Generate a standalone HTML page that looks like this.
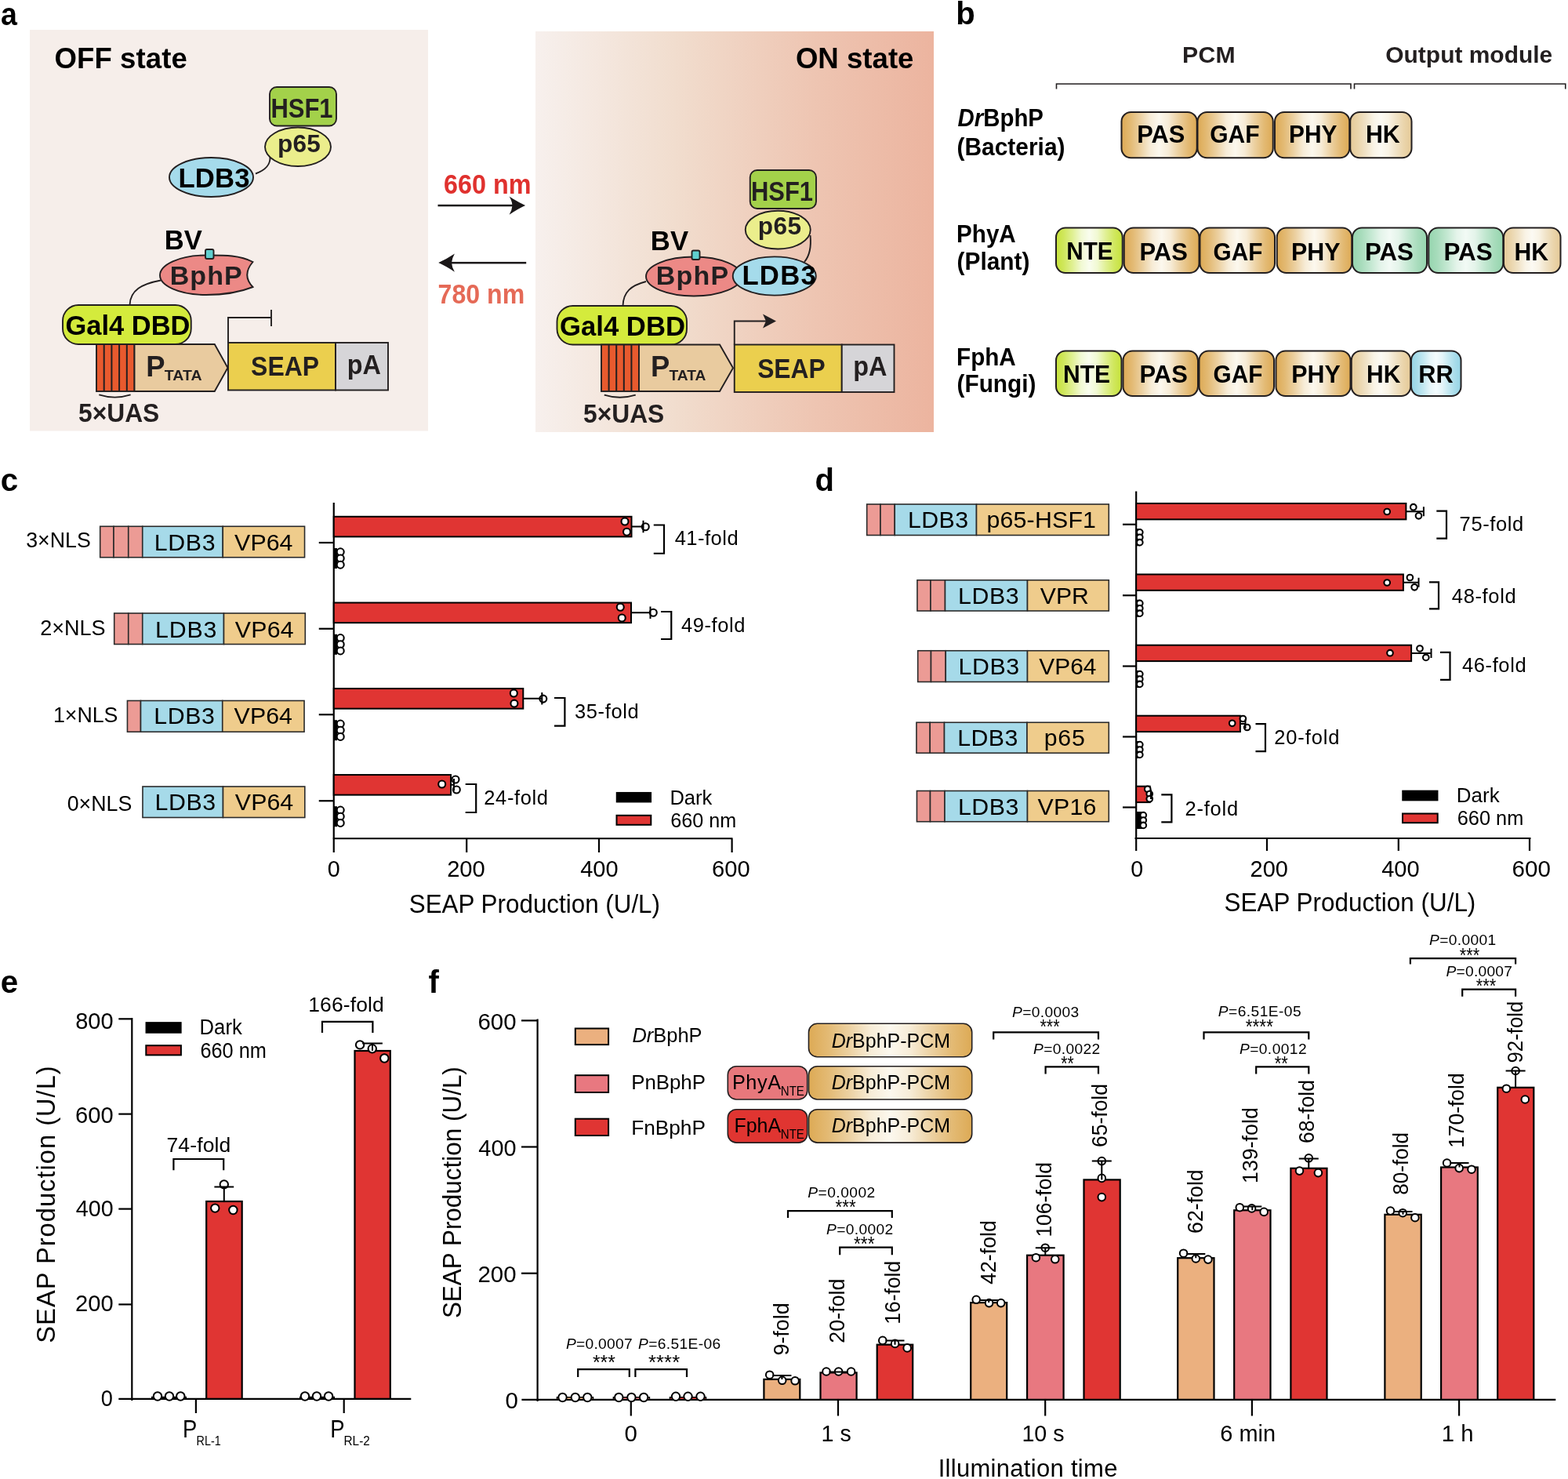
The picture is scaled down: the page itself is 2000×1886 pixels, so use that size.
<!DOCTYPE html><html><head><meta charset="utf-8"><style>html,body{margin:0;padding:0;background:#fff;width:2000px;height:1886px;overflow:hidden}svg{display:block}</style></head><body>
<svg width="2000" height="1886" viewBox="0 0 2000 1886" font-family="'Liberation Sans', Arial, sans-serif">
<rect width="2000" height="1886" fill="#fff"/>
<defs><linearGradient id="gOn" x1="0" x2="1" y1="0" y2="0"><stop offset="0" stop-color="#f7f0ed"/><stop offset="0.35" stop-color="#f1ddce"/><stop offset="0.7" stop-color="#eec5b2"/><stop offset="1" stop-color="#ecb49f"/></linearGradient></defs>
<rect x="38" y="38" width="508" height="511.5" fill="#f6eeea"/>
<rect x="683" y="40" width="508" height="511" fill="url(#gOn)"/>
<text x="0.9" y="31.7" font-size="40" font-weight="bold" textLength="20.86" lengthAdjust="spacingAndGlyphs">a</text>
<text x="69.5" y="86.5" font-size="36.6" font-weight="bold" textLength="169.25" lengthAdjust="spacing">OFF state</text>
<text x="1014.9" y="87.1" font-size="37.4" font-weight="bold" textLength="150.55" lengthAdjust="spacingAndGlyphs">ON state</text>
<g fill="#1a1718" stroke="none"><rect x="558.5" y="260.8" width="96" height="2.5"/><path d="M670.1,262 Q660.5,266.3 649.6,273.8 Q653.2,267.5 653.5,262 Q653.2,256.5 649.6,250.4 Q660.5,257.7 670.1,262 Z"/><rect x="574" y="333.9" width="97.2" height="2.5"/><path d="M559.2,335.1 Q568.8,339.4 579.9,346.7 Q576.3,340.5 576,335.1 Q576.3,329.7 579.9,323.5 Q568.8,330.8 559.2,335.1 Z"/></g>
<text x="566.02" y="246.5" font-size="34.7" font-weight="bold" textLength="111.49" lengthAdjust="spacingAndGlyphs" fill="#e0312e">660 nm</text>
<text x="558.62" y="387" font-size="34.7" font-weight="bold" textLength="110.57" lengthAdjust="spacingAndGlyphs" fill="#e56a57">780 nm</text>
<path d="M326,221.5 C338,217 345,211 344.5,200" fill="none" stroke="#231f20" stroke-width="1.9"/>
<ellipse cx="269.5" cy="226" rx="53.5" ry="25" fill="#a5dbeb" stroke="#231f20" stroke-width="1.9"/>
<ellipse cx="380" cy="187.25" rx="42" ry="24.75" fill="#ebee8c" stroke="#231f20" stroke-width="1.9"/>
<rect x="344" y="111" width="85" height="49.5" rx="9" fill="#a3d14a" stroke="#231f20" stroke-width="1.9"/>
<text x="345.43" y="149.5" font-size="35.3" font-weight="bold" textLength="79.18" lengthAdjust="spacingAndGlyphs" fill="#231f20">HSF1</text>
<text x="353.92" y="193.75" font-size="31.6" font-weight="bold" textLength="54.96" lengthAdjust="spacing" fill="#231f20">p65</text>
<text x="227.38" y="238.8" font-size="34.7" font-weight="bold" textLength="91.28" lengthAdjust="spacing">LDB3</text>
<path d="M205,357.5 C181,362 166,370 165.5,389" fill="none" stroke="#231f20" stroke-width="1.9"/>
<path d="M322.5,334 C305,325 285,325.5 263,325.5 C228,325.5 204,338 204,351 C204,364 228,376 263,376 C285,376 305,373 322.5,366 Q308,351 322.5,334 Z" fill="#ec8986" stroke="#231f20" stroke-width="1.9"/>
<rect x="262" y="318" width="10.5" height="12" rx="2" fill="#5fcfcf" stroke="#231f20" stroke-width="1.9"/>
<text x="209.69" y="318" font-size="34.7" font-weight="bold" textLength="48.05" lengthAdjust="spacingAndGlyphs">BV</text>
<text x="216.73" y="362.5" font-size="34" font-weight="bold" textLength="91.94" lengthAdjust="spacing" fill="#231f20">BphP</text>
<path d="M291,437 V405 H346 M346,395 V416" fill="none" stroke="#231f20" stroke-width="1.9"/>
<rect x="80" y="389" width="163.75" height="50" rx="20" fill="#d4eb3c" stroke="#231f20" stroke-width="1.9"/>
<text x="83.59" y="427" font-size="34.7" font-weight="bold" textLength="158.86" lengthAdjust="spacingAndGlyphs">Gal4 DBD</text>
<rect x="123" y="439" width="48.5" height="60" fill="#e85a2e" stroke="#231f20" stroke-width="1.9"/>
<line x1="132.7" y1="439" x2="132.7" y2="499" stroke="#231f20" stroke-width="2"/>
<line x1="142.4" y1="439" x2="142.4" y2="499" stroke="#231f20" stroke-width="2"/>
<line x1="152.1" y1="439" x2="152.1" y2="499" stroke="#231f20" stroke-width="2"/>
<line x1="161.8" y1="439" x2="161.8" y2="499" stroke="#231f20" stroke-width="2"/>
<path d="M171.5,439 H273.75 L290.5,469 L273.75,499 H171.5 Z" fill="#e9cb9f" stroke="#231f20" stroke-width="1.9"/>
<rect x="291" y="437" width="137" height="60.5" fill="#ebcf4e" stroke="#231f20" stroke-width="1.9"/>
<rect x="428" y="437" width="67" height="60.5" fill="#d6d5d8" stroke="#231f20" stroke-width="1.9"/>
<text x="186.32" y="480" font-size="36.4" font-weight="bold" fill="#231f20">P</text>
<text x="209.8" y="485" font-size="18.9" font-weight="bold" textLength="47.67" lengthAdjust="spacingAndGlyphs" fill="#231f20">TATA</text>
<text x="320.08" y="479.4" font-size="34.6" font-weight="bold" textLength="87.01" lengthAdjust="spacingAndGlyphs" fill="#231f20">SEAP</text>
<text x="442.76" y="476.7" font-size="35" font-weight="bold" textLength="43.19" lengthAdjust="spacingAndGlyphs" fill="#231f20">pA</text>
<path d="M126.3,503.4 A67 67 0 0 0 166.6,503.4" fill="none" stroke="#231f20" stroke-width="1.9"/>
<text x="100.02" y="538.1" font-size="33.8" font-weight="bold" textLength="103.22" lengthAdjust="spacingAndGlyphs" fill="#231f20">5×UAS</text>
<path d="M1033.5,300 C1035,315 1032,327 1026,334" fill="none" stroke="#231f20" stroke-width="1.9"/>
<path d="M824,359 C805,364 795,372 794.5,390" fill="none" stroke="#231f20" stroke-width="1.9"/>
<ellipse cx="885" cy="352.5" rx="61" ry="25" fill="#ec8986" stroke="#231f20" stroke-width="1.9"/>
<ellipse cx="987.75" cy="352" rx="53" ry="24.6" fill="#a5dbeb" stroke="#231f20" stroke-width="1.9"/>
<ellipse cx="992.25" cy="293.1" rx="41.5" ry="24.4" fill="#ebee8c" stroke="#231f20" stroke-width="1.9"/>
<rect x="956.75" y="217" width="84.25" height="49" rx="9" fill="#a3d14a" stroke="#231f20" stroke-width="1.9"/>
<text x="957.93" y="255.5" font-size="34.7" font-weight="bold" textLength="79.18" lengthAdjust="spacingAndGlyphs" fill="#231f20">HSF1</text>
<text x="966.67" y="298.75" font-size="31.6" font-weight="bold" textLength="55.46" lengthAdjust="spacing" fill="#231f20">p65</text>
<rect x="882.5" y="319.5" width="10" height="11.5" rx="2" fill="#5fcfcf" stroke="#231f20" stroke-width="1.9"/>
<text x="829.68" y="318.75" font-size="34.7" font-weight="bold" textLength="48.56" lengthAdjust="spacing">BV</text>
<text x="836.73" y="362.5" font-size="34" font-weight="bold" textLength="92.44" lengthAdjust="spacing" fill="#231f20">BphP</text>
<text x="946.43" y="362.5" font-size="34.7" font-weight="bold" textLength="94.33" lengthAdjust="spacing">LDB3</text>
<path d="M936.75,439.5 V409.5 H978" fill="none" stroke="#231f20" stroke-width="1.9"/>
<path d="M990,409.5 L973,400.5 L977,409.5 L973,418.5 Z" fill="#231f20"/>
<rect x="710.5" y="390" width="165.5" height="49.5" rx="20" fill="#d4eb3c" stroke="#231f20" stroke-width="1.9"/>
<text x="714.08" y="427.5" font-size="34.7" font-weight="bold" textLength="159.88" lengthAdjust="spacingAndGlyphs">Gal4 DBD</text>
<rect x="767" y="439.5" width="48" height="59.5" fill="#e85a2e" stroke="#231f20" stroke-width="1.9"/>
<line x1="776.6" y1="439.5" x2="776.6" y2="499" stroke="#231f20" stroke-width="2"/>
<line x1="786.2" y1="439.5" x2="786.2" y2="499" stroke="#231f20" stroke-width="2"/>
<line x1="795.8" y1="439.5" x2="795.8" y2="499" stroke="#231f20" stroke-width="2"/>
<line x1="805.4" y1="439.5" x2="805.4" y2="499" stroke="#231f20" stroke-width="2"/>
<path d="M815,439.5 H918 L935,469.25 L918,499 H815 Z" fill="#e9cb9f" stroke="#231f20" stroke-width="1.9"/>
<rect x="936.75" y="439.5" width="137" height="60.5" fill="#ebcf4e" stroke="#231f20" stroke-width="1.9"/>
<rect x="1073.75" y="439.5" width="66.75" height="60.5" fill="#d6d5d8" stroke="#231f20" stroke-width="1.9"/>
<text x="830.07" y="479.5" font-size="36.4" font-weight="bold" fill="#231f20">P</text>
<text x="853.55" y="485" font-size="18.9" font-weight="bold" textLength="46.91" lengthAdjust="spacingAndGlyphs" fill="#231f20">TATA</text>
<text x="966.18" y="481.75" font-size="34.6" font-weight="bold" textLength="86.5" lengthAdjust="spacingAndGlyphs" fill="#231f20">SEAP</text>
<text x="1088.16" y="479.2" font-size="35" font-weight="bold" textLength="43.3" lengthAdjust="spacingAndGlyphs" fill="#231f20">pA</text>
<path d="M770.75,503.6 A67 67 0 0 0 810.75,503.6" fill="none" stroke="#231f20" stroke-width="1.9"/>
<text x="744.02" y="538.5" font-size="33.8" font-weight="bold" textLength="103.22" lengthAdjust="spacingAndGlyphs" fill="#231f20">5×UAS</text>
<defs>
<linearGradient id="gTan" x1="0" x2="1" y1="0" y2="0"><stop offset="0" stop-color="#ddaa55"/><stop offset="0.12" stop-color="#e3ba74"/><stop offset="0.25" stop-color="#ecd1a2"/><stop offset="0.38" stop-color="#f7ecd7"/><stop offset="0.5" stop-color="#fcf8ee"/><stop offset="0.62" stop-color="#f7ecd7"/><stop offset="0.75" stop-color="#ecd1a2"/><stop offset="0.88" stop-color="#e3ba74"/><stop offset="1" stop-color="#ddaa55"/></linearGradient>
<linearGradient id="gHK" x1="0" x2="1" y1="0" y2="0"><stop offset="0" stop-color="#e5ca98"/><stop offset="0.12" stop-color="#ead4aa"/><stop offset="0.25" stop-color="#f0e2c6"/><stop offset="0.38" stop-color="#f9f3e5"/><stop offset="0.5" stop-color="#fcfaf3"/><stop offset="0.62" stop-color="#f9f3e5"/><stop offset="0.75" stop-color="#f0e2c6"/><stop offset="0.88" stop-color="#ead4aa"/><stop offset="1" stop-color="#e5ca98"/></linearGradient>
<linearGradient id="gNTE" x1="0" x2="1" y1="0" y2="0"><stop offset="0" stop-color="#c6e23a"/><stop offset="0.12" stop-color="#d0e75e"/><stop offset="0.25" stop-color="#e0f094"/><stop offset="0.38" stop-color="#f1f9d3"/><stop offset="0.5" stop-color="#f9fdee"/><stop offset="0.62" stop-color="#f1f9d3"/><stop offset="0.75" stop-color="#e0f094"/><stop offset="0.88" stop-color="#d0e75e"/><stop offset="1" stop-color="#c6e23a"/></linearGradient>
<linearGradient id="gGrn" x1="0" x2="1" y1="0" y2="0"><stop offset="0" stop-color="#95d5ae"/><stop offset="0.12" stop-color="#a8dcbc"/><stop offset="0.25" stop-color="#c4e8d2"/><stop offset="0.38" stop-color="#e4f4ea"/><stop offset="0.5" stop-color="#f2faf5"/><stop offset="0.62" stop-color="#e4f4ea"/><stop offset="0.75" stop-color="#c4e8d2"/><stop offset="0.88" stop-color="#a8dcbc"/><stop offset="1" stop-color="#95d5ae"/></linearGradient>
<linearGradient id="gRR" x1="0" x2="1" y1="0" y2="0"><stop offset="0" stop-color="#95d4e5"/><stop offset="0.12" stop-color="#a8dcea"/><stop offset="0.25" stop-color="#c4e8f1"/><stop offset="0.38" stop-color="#e5f5f9"/><stop offset="0.5" stop-color="#f3fbfd"/><stop offset="0.62" stop-color="#e5f5f9"/><stop offset="0.75" stop-color="#c4e8f1"/><stop offset="0.88" stop-color="#a8dcea"/><stop offset="1" stop-color="#95d4e5"/></linearGradient>
<linearGradient id="vTan" x1="0" x2="0" y1="0" y2="1"><stop offset="0" stop-color="#ddaa55" stop-opacity="0.45"/><stop offset="0.3" stop-color="#ddaa55" stop-opacity="0"/><stop offset="0.7" stop-color="#ddaa55" stop-opacity="0"/><stop offset="1" stop-color="#ddaa55" stop-opacity="0.45"/></linearGradient>
<linearGradient id="vHK" x1="0" x2="0" y1="0" y2="1"><stop offset="0" stop-color="#e5ca98" stop-opacity="0.45"/><stop offset="0.3" stop-color="#e5ca98" stop-opacity="0"/><stop offset="0.7" stop-color="#e5ca98" stop-opacity="0"/><stop offset="1" stop-color="#e5ca98" stop-opacity="0.45"/></linearGradient>
<linearGradient id="vNTE" x1="0" x2="0" y1="0" y2="1"><stop offset="0" stop-color="#c6e23a" stop-opacity="0.45"/><stop offset="0.3" stop-color="#c6e23a" stop-opacity="0"/><stop offset="0.7" stop-color="#c6e23a" stop-opacity="0"/><stop offset="1" stop-color="#c6e23a" stop-opacity="0.45"/></linearGradient>
<linearGradient id="vGrn" x1="0" x2="0" y1="0" y2="1"><stop offset="0" stop-color="#95d5ae" stop-opacity="0.45"/><stop offset="0.3" stop-color="#95d5ae" stop-opacity="0"/><stop offset="0.7" stop-color="#95d5ae" stop-opacity="0"/><stop offset="1" stop-color="#95d5ae" stop-opacity="0.45"/></linearGradient>
<linearGradient id="vRR" x1="0" x2="0" y1="0" y2="1"><stop offset="0" stop-color="#95d4e5" stop-opacity="0.45"/><stop offset="0.3" stop-color="#95d4e5" stop-opacity="0"/><stop offset="0.7" stop-color="#95d4e5" stop-opacity="0"/><stop offset="1" stop-color="#95d4e5" stop-opacity="0.45"/></linearGradient>
</defs>
<text x="1219.36" y="31.25" font-size="40" font-weight="bold" textLength="26.03" lengthAdjust="spacing">b</text>
<text x="1507.98" y="80" font-size="30.2" font-weight="bold" textLength="67.79" lengthAdjust="spacing" fill="#231f20">PCM</text>
<text x="1767.27" y="80" font-size="30.2" font-weight="bold" textLength="213" lengthAdjust="spacingAndGlyphs" fill="#231f20">Output module</text>
<path d="M1347.5,113.5 V107 H1723 V113.5 M1727.5,113.5 V107 H1996.75 V113.5" fill="none" stroke="#231f20" stroke-width="1.6"/>
<text x="1221.48" y="161.25" font-size="30.9" textLength="109.52" lengthAdjust="spacingAndGlyphs"><tspan font-weight="bold" font-style="italic">Dr</tspan><tspan font-weight="bold">BphP</tspan></text>
<text x="1220.51" y="197.5" font-size="30.9" font-weight="bold" textLength="137.98" lengthAdjust="spacingAndGlyphs">(Bacteria)</text>
<text x="1220.02" y="308.75" font-size="30.9" font-weight="bold" textLength="75.76" lengthAdjust="spacingAndGlyphs">PhyA</text>
<text x="1220.51" y="344.25" font-size="30.9" font-weight="bold" textLength="92.98" lengthAdjust="spacingAndGlyphs">(Plant)</text>
<text x="1220.02" y="465.5" font-size="30.9" font-weight="bold" textLength="75.77" lengthAdjust="spacingAndGlyphs">FphA</text>
<text x="1220.52" y="500" font-size="30.9" font-weight="bold" textLength="100.97" lengthAdjust="spacingAndGlyphs">(Fungi)</text>
<rect x="1430.5" y="143" width="96.25" height="58.25" rx="12" fill="url(#gTan)" stroke="#231f20" stroke-width="2"/>
<rect x="1527.5" y="143" width="96.25" height="58.25" rx="12" fill="url(#gTan)" stroke="#231f20" stroke-width="2"/>
<rect x="1626" y="143" width="95.25" height="58.25" rx="12" fill="url(#gTan)" stroke="#231f20" stroke-width="2"/>
<rect x="1722.25" y="143" width="78.25" height="58.25" rx="12" fill="url(#gHK)" stroke="#231f20" stroke-width="2"/>
<text x="1450.21" y="181.9" font-size="30.5" font-weight="bold" textLength="61.15" lengthAdjust="spacingAndGlyphs">PAS</text>
<text x="1543.27" y="181.9" font-size="30.5" font-weight="bold" textLength="63.33" lengthAdjust="spacingAndGlyphs">GAF</text>
<text x="1644" y="181.9" font-size="30.5" font-weight="bold" textLength="61.48" lengthAdjust="spacingAndGlyphs">PHY</text>
<text x="1741.97" y="181.9" font-size="30.5" font-weight="bold" textLength="43.81" lengthAdjust="spacingAndGlyphs">HK</text>
<rect x="1347" y="290.5" width="84.75" height="57.5" rx="12" fill="url(#gNTE)" stroke="#231f20" stroke-width="2"/>
<rect x="1433.75" y="290.5" width="95.75" height="57.5" rx="12" fill="url(#gTan)" stroke="#231f20" stroke-width="2"/>
<rect x="1530.5" y="290.5" width="95.5" height="57.5" rx="12" fill="url(#gTan)" stroke="#231f20" stroke-width="2"/>
<rect x="1628.75" y="290.5" width="95.5" height="57.5" rx="12" fill="url(#gTan)" stroke="#231f20" stroke-width="2"/>
<rect x="1725" y="290.5" width="95" height="57.5" rx="12" fill="url(#gGrn)" stroke="#231f20" stroke-width="2"/>
<rect x="1822.25" y="290.5" width="95" height="57.5" rx="12" fill="url(#gGrn)" stroke="#231f20" stroke-width="2"/>
<rect x="1918" y="290.5" width="72.5" height="57.5" rx="12" fill="url(#gHK)" stroke="#231f20" stroke-width="2"/>
<text x="1360.22" y="330.6" font-size="31.3" font-weight="bold" textLength="59.34" lengthAdjust="spacingAndGlyphs">NTE</text>
<text x="1453.5" y="331.5" font-size="31.3" font-weight="bold" textLength="61.41" lengthAdjust="spacingAndGlyphs">PAS</text>
<text x="1547.53" y="331.5" font-size="31.3" font-weight="bold" textLength="62.81" lengthAdjust="spacingAndGlyphs">GAF</text>
<text x="1646.97" y="331.5" font-size="31.3" font-weight="bold" textLength="62.52" lengthAdjust="spacingAndGlyphs">PHY</text>
<text x="1740.98" y="331.5" font-size="31.3" font-weight="bold" textLength="61.94" lengthAdjust="spacingAndGlyphs">PAS</text>
<text x="1841.48" y="331.5" font-size="31.3" font-weight="bold" textLength="62.21" lengthAdjust="spacingAndGlyphs">PAS</text>
<text x="1931.48" y="331.5" font-size="31.3" font-weight="bold" textLength="43.55" lengthAdjust="spacingAndGlyphs">HK</text>
<rect x="1347" y="447.5" width="83.5" height="57.5" rx="12" fill="url(#gNTE)" stroke="#231f20" stroke-width="2"/>
<rect x="1432.5" y="447.5" width="95.5" height="57.5" rx="12" fill="url(#gTan)" stroke="#231f20" stroke-width="2"/>
<rect x="1529.5" y="447.5" width="95.5" height="57.5" rx="12" fill="url(#gTan)" stroke="#231f20" stroke-width="2"/>
<rect x="1627.5" y="447.5" width="95" height="57.5" rx="12" fill="url(#gTan)" stroke="#231f20" stroke-width="2"/>
<rect x="1723.75" y="447.5" width="75.5" height="57.5" rx="12" fill="url(#gHK)" stroke="#231f20" stroke-width="2"/>
<rect x="1800" y="447.5" width="63.5" height="57.5" rx="12" fill="url(#gRR)" stroke="#231f20" stroke-width="2"/>
<text x="1355.99" y="487.5" font-size="31.2" font-weight="bold" textLength="60.19" lengthAdjust="spacingAndGlyphs">NTE</text>
<text x="1453.5" y="487.5" font-size="31.2" font-weight="bold" textLength="61.41" lengthAdjust="spacingAndGlyphs">PAS</text>
<text x="1547.53" y="487.5" font-size="31.2" font-weight="bold" textLength="62.81" lengthAdjust="spacingAndGlyphs">GAF</text>
<text x="1647.22" y="487.5" font-size="31.2" font-weight="bold" textLength="62.52" lengthAdjust="spacingAndGlyphs">PHY</text>
<text x="1743" y="487.5" font-size="31.2" font-weight="bold" textLength="43.28" lengthAdjust="spacingAndGlyphs">HK</text>
<text x="1809.19" y="487.5" font-size="31.2" font-weight="bold" textLength="44.44" lengthAdjust="spacingAndGlyphs">RR</text>
<text x="0.83" y="626.4" font-size="40.3" font-weight="bold" textLength="22.65" lengthAdjust="spacing">c</text>
<path d="M425.75,641 V1087 M424.5,1069.25 H934.5 M595.2,1069.25 V1087 M764,1069.25 V1087 M933.6,1069.25 V1087" fill="none" stroke="#000" stroke-width="2.2"/>
<path d="M406.75,692 H425.75" stroke="#000" stroke-width="2.2"/>
<path d="M406.75,801.75 H425.75" stroke="#000" stroke-width="2.2"/>
<path d="M406.75,911.25 H425.75" stroke="#000" stroke-width="2.2"/>
<path d="M406.75,1021.25 H425.75" stroke="#000" stroke-width="2.2"/>
<text x="417.63" y="1118.3" font-size="30.2" textLength="16" lengthAdjust="spacingAndGlyphs">0</text>
<text x="570.13" y="1118.3" font-size="30.2" textLength="48.71" lengthAdjust="spacingAndGlyphs">200</text>
<text x="740.13" y="1118.3" font-size="30.2" textLength="48.4" lengthAdjust="spacingAndGlyphs">400</text>
<text x="908.12" y="1118.3" font-size="30.2" textLength="48.62" lengthAdjust="spacingAndGlyphs">600</text>
<text x="521.78" y="1163.6" font-size="32.7" textLength="320.26" lengthAdjust="spacingAndGlyphs">SEAP Production (U/L)</text>
<rect x="127.7" y="671.25" width="17.3" height="39.5" fill="#ec9b95" stroke="#2b2b2b" stroke-width="1.6"/>
<rect x="145" y="671.25" width="18.75" height="39.5" fill="#ec9b95" stroke="#2b2b2b" stroke-width="1.6"/>
<rect x="163.75" y="671.25" width="18" height="39.5" fill="#ec9b95" stroke="#2b2b2b" stroke-width="1.6"/>
<rect x="181.75" y="671.25" width="102.5" height="39.5" fill="#a6dae9" stroke="#2b2b2b" stroke-width="1.6"/>
<rect x="284.25" y="671.25" width="104.3" height="39.5" fill="#efcc8c" stroke="#2b2b2b" stroke-width="1.6"/>
<text x="196.76" y="701.75" font-size="30.3" textLength="77.82" lengthAdjust="spacing">LDB3</text>
<text x="299.12" y="701.75" font-size="30.3" textLength="74.27" lengthAdjust="spacing">VP64</text>
<rect x="145.7" y="782" width="18.05" height="39.5" fill="#ec9b95" stroke="#2b2b2b" stroke-width="1.6"/>
<rect x="163.75" y="782" width="18" height="39.5" fill="#ec9b95" stroke="#2b2b2b" stroke-width="1.6"/>
<rect x="181.75" y="782" width="103.75" height="39.5" fill="#a6dae9" stroke="#2b2b2b" stroke-width="1.6"/>
<rect x="285.5" y="782" width="103.8" height="39.5" fill="#efcc8c" stroke="#2b2b2b" stroke-width="1.6"/>
<text x="198.01" y="812.5" font-size="30.3" textLength="78.32" lengthAdjust="spacing">LDB3</text>
<text x="299.87" y="812.5" font-size="30.3" textLength="74.77" lengthAdjust="spacing">VP64</text>
<rect x="162.45" y="893.5" width="17.05" height="39.75" fill="#ec9b95" stroke="#2b2b2b" stroke-width="1.6"/>
<rect x="179.5" y="893.5" width="104.25" height="39.75" fill="#a6dae9" stroke="#2b2b2b" stroke-width="1.6"/>
<rect x="283.75" y="893.5" width="104.3" height="39.75" fill="#efcc8c" stroke="#2b2b2b" stroke-width="1.6"/>
<text x="196.26" y="923" font-size="30.3" textLength="77.57" lengthAdjust="spacing">LDB3</text>
<text x="298.62" y="923" font-size="30.3" textLength="74.27" lengthAdjust="spacing">VP64</text>
<rect x="181.95" y="1003" width="102.55" height="39.5" fill="#a6dae9" stroke="#2b2b2b" stroke-width="1.6"/>
<rect x="284.5" y="1003" width="104.3" height="39.5" fill="#efcc8c" stroke="#2b2b2b" stroke-width="1.6"/>
<text x="197.51" y="1033" font-size="30.3" textLength="77.57" lengthAdjust="spacing">LDB3</text>
<text x="299.87" y="1033" font-size="30.3" textLength="74.27" lengthAdjust="spacing">VP64</text>
<text x="33.23" y="698.1" font-size="27.4" textLength="82.5" lengthAdjust="spacingAndGlyphs">3×NLS</text>
<text x="51.14" y="809.6" font-size="27.4" textLength="83.35" lengthAdjust="spacingAndGlyphs">2×NLS</text>
<text x="67.96" y="921.35" font-size="27.4" textLength="82.51" lengthAdjust="spacingAndGlyphs">1×NLS</text>
<text x="85.71" y="1033.85" font-size="27.4" textLength="82.52" lengthAdjust="spacingAndGlyphs">0×NLS</text>
<rect x="425.75" y="658.8" width="379.75" height="25.6" fill="#e03533" stroke="#000" stroke-width="2"/>
<circle cx="797" cy="665" r="4.5" fill="#fff" stroke="#000" stroke-width="2.1"/>
<circle cx="799.5" cy="678.25" r="4.5" fill="#fff" stroke="#000" stroke-width="2.1"/>
<circle cx="823.25" cy="671.75" r="4.5" fill="#fff" stroke="#000" stroke-width="2.1"/>
<path d="M805.5,671.6 H820.5 M820.5,663.85 V679.35" fill="none" stroke="#000" stroke-width="2"/>
<rect x="425.75" y="699.5" width="3.75" height="25" fill="#000" stroke="#000" stroke-width="1"/>
<circle cx="434.2" cy="703.8" r="4.5" fill="#fff" stroke="#000" stroke-width="2.1"/>
<circle cx="434.2" cy="712" r="4.5" fill="#fff" stroke="#000" stroke-width="2.1"/>
<circle cx="434.2" cy="720.2" r="4.5" fill="#fff" stroke="#000" stroke-width="2.1"/>
<path d="M833.75,669.5 H847 V705.75 H833.75" fill="none" stroke="#000" stroke-width="2.2"/>
<text x="860.66" y="695" font-size="25.5" textLength="80.98" lengthAdjust="spacing">41-fold</text>
<rect x="425.75" y="768.55" width="379.25" height="25.6" fill="#e03533" stroke="#000" stroke-width="2"/>
<circle cx="791.25" cy="774.25" r="4.5" fill="#fff" stroke="#000" stroke-width="2.1"/>
<circle cx="793.25" cy="788" r="4.5" fill="#fff" stroke="#000" stroke-width="2.1"/>
<circle cx="833.25" cy="781.25" r="4.5" fill="#fff" stroke="#000" stroke-width="2.1"/>
<path d="M805,781.35 H829.5 M829.5,773.6 V789.1" fill="none" stroke="#000" stroke-width="2"/>
<rect x="425.75" y="809.25" width="3.75" height="25" fill="#000" stroke="#000" stroke-width="1"/>
<circle cx="434.2" cy="813.55" r="4.5" fill="#fff" stroke="#000" stroke-width="2.1"/>
<circle cx="434.2" cy="821.75" r="4.5" fill="#fff" stroke="#000" stroke-width="2.1"/>
<circle cx="434.2" cy="829.95" r="4.5" fill="#fff" stroke="#000" stroke-width="2.1"/>
<path d="M843,780 H856.25 V815 H843" fill="none" stroke="#000" stroke-width="2.2"/>
<text x="868.91" y="806.25" font-size="25.5" textLength="81.48" lengthAdjust="spacing">49-fold</text>
<rect x="425.75" y="878.05" width="241.55" height="25.6" fill="#e03533" stroke="#000" stroke-width="2"/>
<circle cx="655.3" cy="884" r="4.5" fill="#fff" stroke="#000" stroke-width="2.1"/>
<circle cx="655.9" cy="897.1" r="4.5" fill="#fff" stroke="#000" stroke-width="2.1"/>
<circle cx="692.8" cy="891.1" r="4.5" fill="#fff" stroke="#000" stroke-width="2.1"/>
<path d="M667.3,890.85 H691.3 M691.3,883.1 V898.6" fill="none" stroke="#000" stroke-width="2"/>
<rect x="425.75" y="918.75" width="3.75" height="25" fill="#000" stroke="#000" stroke-width="1"/>
<circle cx="434.2" cy="923.05" r="4.5" fill="#fff" stroke="#000" stroke-width="2.1"/>
<circle cx="434.2" cy="931.25" r="4.5" fill="#fff" stroke="#000" stroke-width="2.1"/>
<circle cx="434.2" cy="939.45" r="4.5" fill="#fff" stroke="#000" stroke-width="2.1"/>
<path d="M707,890 H720.4 V925.7 H707" fill="none" stroke="#000" stroke-width="2.2"/>
<text x="733.03" y="916" font-size="25.5" textLength="81.61" lengthAdjust="spacing">35-fold</text>
<rect x="425.75" y="988.05" width="149.25" height="25.6" fill="#e03533" stroke="#000" stroke-width="2"/>
<circle cx="563.7" cy="1000" r="4.5" fill="#fff" stroke="#000" stroke-width="2.1"/>
<circle cx="581" cy="994" r="4.5" fill="#fff" stroke="#000" stroke-width="2.1"/>
<circle cx="582.3" cy="1007" r="4.5" fill="#fff" stroke="#000" stroke-width="2.1"/>
<path d="M575,1000.85 H579 M579,993.1 V1008.6" fill="none" stroke="#000" stroke-width="2"/>
<rect x="425.75" y="1028.75" width="3.75" height="25" fill="#000" stroke="#000" stroke-width="1"/>
<circle cx="434.2" cy="1033.05" r="4.5" fill="#fff" stroke="#000" stroke-width="2.1"/>
<circle cx="434.2" cy="1041.25" r="4.5" fill="#fff" stroke="#000" stroke-width="2.1"/>
<circle cx="434.2" cy="1049.45" r="4.5" fill="#fff" stroke="#000" stroke-width="2.1"/>
<path d="M593.7,1000 H607.2 V1036 H593.7" fill="none" stroke="#000" stroke-width="2.2"/>
<text x="617.32" y="1025.7" font-size="25.5" textLength="81.63" lengthAdjust="spacing">24-fold</text>
<rect x="786.5" y="1010.7" width="43.8" height="12" fill="#000" stroke="#000" stroke-width="1.5"/>
<rect x="786.5" y="1039.8" width="43.8" height="12" fill="#e03533" stroke="#000" stroke-width="2"/>
<text x="854.4" y="1025.7" font-size="26" textLength="53.96" lengthAdjust="spacingAndGlyphs">Dark</text>
<text x="855.22" y="1055" font-size="26" textLength="83.94" lengthAdjust="spacingAndGlyphs">660 nm</text>
<text x="1039.61" y="626.3" font-size="40" font-weight="bold" textLength="25.53" lengthAdjust="spacing">d</text>
<path d="M1449.2,626.5 V1085 M1447.5,1069 H1952.5 M1616,1069 V1085 M1783.8,1069 V1085 M1951,1069 V1085" fill="none" stroke="#000" stroke-width="2.2"/>
<path d="M1432,668.75 H1449.2" stroke="#000" stroke-width="2.2"/>
<path d="M1432,759.25 H1449.2" stroke="#000" stroke-width="2.2"/>
<path d="M1432,849.5 H1449.2" stroke="#000" stroke-width="2.2"/>
<path d="M1432,939.5 H1449.2" stroke="#000" stroke-width="2.2"/>
<path d="M1432,1029.5 H1449.2" stroke="#000" stroke-width="2.2"/>
<text x="1442.18" y="1118" font-size="30.2" textLength="15.94" lengthAdjust="spacingAndGlyphs">0</text>
<text x="1594.54" y="1118" font-size="30.2" textLength="48.29" lengthAdjust="spacingAndGlyphs">200</text>
<text x="1762.13" y="1118" font-size="30.2" textLength="48.5" lengthAdjust="spacingAndGlyphs">400</text>
<text x="1928.5" y="1118" font-size="30.2" textLength="49.36" lengthAdjust="spacingAndGlyphs">600</text>
<text x="1561.58" y="1161.5" font-size="32.7" textLength="320.77" lengthAdjust="spacingAndGlyphs">SEAP Production (U/L)</text>
<rect x="1105.7" y="643" width="17.3" height="39.5" fill="#ec9b95" stroke="#2b2b2b" stroke-width="1.6"/>
<rect x="1123" y="643" width="18.25" height="39.5" fill="#ec9b95" stroke="#2b2b2b" stroke-width="1.6"/>
<rect x="1141.25" y="643" width="104.25" height="39.5" fill="#a6dae9" stroke="#2b2b2b" stroke-width="1.6"/>
<rect x="1245.5" y="643" width="168.8" height="39.5" fill="#efcc8c" stroke="#2b2b2b" stroke-width="1.6"/>
<text x="1157.91" y="673.4" font-size="30.3" textLength="77.12" lengthAdjust="spacing">LDB3</text>
<text x="1258.45" y="673.4" font-size="30.3" textLength="139.53" lengthAdjust="spacing">p65-HSF1</text>
<rect x="1169.95" y="739.75" width="17.05" height="39.25" fill="#ec9b95" stroke="#2b2b2b" stroke-width="1.6"/>
<rect x="1187" y="739.75" width="18.5" height="39.25" fill="#ec9b95" stroke="#2b2b2b" stroke-width="1.6"/>
<rect x="1205.5" y="739.75" width="105" height="39.25" fill="#a6dae9" stroke="#2b2b2b" stroke-width="1.6"/>
<rect x="1310.5" y="739.75" width="103.8" height="39.25" fill="#efcc8c" stroke="#2b2b2b" stroke-width="1.6"/>
<text x="1222.01" y="770" font-size="30.3" textLength="77.57" lengthAdjust="spacing">LDB3</text>
<text x="1326.87" y="770" font-size="30.3" textLength="62.03" lengthAdjust="spacingAndGlyphs">VPR</text>
<rect x="1170.7" y="829.75" width="16.8" height="39.75" fill="#ec9b95" stroke="#2b2b2b" stroke-width="1.6"/>
<rect x="1187.5" y="829.75" width="18.75" height="39.75" fill="#ec9b95" stroke="#2b2b2b" stroke-width="1.6"/>
<rect x="1206.25" y="829.75" width="104.25" height="39.75" fill="#a6dae9" stroke="#2b2b2b" stroke-width="1.6"/>
<rect x="1310.5" y="829.75" width="103.8" height="39.75" fill="#efcc8c" stroke="#2b2b2b" stroke-width="1.6"/>
<text x="1222.51" y="859.5" font-size="30.3" textLength="77.57" lengthAdjust="spacing">LDB3</text>
<text x="1325.37" y="859.5" font-size="30.3" textLength="73.01" lengthAdjust="spacingAndGlyphs">VP64</text>
<rect x="1168.95" y="921.25" width="17.3" height="39" fill="#ec9b95" stroke="#2b2b2b" stroke-width="1.6"/>
<rect x="1186.25" y="921.25" width="18.25" height="39" fill="#ec9b95" stroke="#2b2b2b" stroke-width="1.6"/>
<rect x="1204.5" y="921.25" width="105.5" height="39" fill="#a6dae9" stroke="#2b2b2b" stroke-width="1.6"/>
<rect x="1310" y="921.25" width="104.3" height="39" fill="#efcc8c" stroke="#2b2b2b" stroke-width="1.6"/>
<text x="1221.26" y="950.75" font-size="30.3" textLength="77.07" lengthAdjust="spacing">LDB3</text>
<text x="1331.8" y="950.75" font-size="30.3" textLength="51.98" lengthAdjust="spacing">p65</text>
<rect x="1169.45" y="1008.5" width="17.05" height="39.25" fill="#ec9b95" stroke="#2b2b2b" stroke-width="1.6"/>
<rect x="1186.5" y="1008.5" width="18.5" height="39.25" fill="#ec9b95" stroke="#2b2b2b" stroke-width="1.6"/>
<rect x="1205" y="1008.5" width="105.5" height="39.25" fill="#a6dae9" stroke="#2b2b2b" stroke-width="1.6"/>
<rect x="1310.5" y="1008.5" width="103.8" height="39.25" fill="#efcc8c" stroke="#2b2b2b" stroke-width="1.6"/>
<text x="1222.01" y="1038.75" font-size="30.3" textLength="77.32" lengthAdjust="spacing">LDB3</text>
<text x="1323.62" y="1038.75" font-size="30.3" textLength="74.71" lengthAdjust="spacing">VP16</text>
<rect x="1449.2" y="641.95" width="344.2" height="20.4" fill="#e03533" stroke="#000" stroke-width="2"/>
<circle cx="1769.2" cy="652.5" r="3.8" fill="#fff" stroke="#000" stroke-width="2.1"/>
<circle cx="1802.8" cy="646.7" r="3.8" fill="#fff" stroke="#000" stroke-width="2.1"/>
<circle cx="1809.5" cy="657.8" r="3.8" fill="#fff" stroke="#000" stroke-width="2.1"/>
<path d="M1793.4,652.15 H1815.9 M1815.9,646.15 V658.15" fill="none" stroke="#000" stroke-width="2"/>
<rect x="1449.2" y="674.75" width="4.6" height="21" fill="#000" stroke="#000" stroke-width="1"/>
<circle cx="1453.8" cy="678.85" r="3.8" fill="#fff" stroke="#000" stroke-width="2.1"/>
<circle cx="1453.8" cy="685.25" r="3.8" fill="#fff" stroke="#000" stroke-width="2.1"/>
<circle cx="1453.8" cy="691.65" r="3.8" fill="#fff" stroke="#000" stroke-width="2.1"/>
<path d="M1832.3,651.6 H1845 V686.6 H1832.3" fill="none" stroke="#000" stroke-width="2.2"/>
<text x="1861.59" y="677.3" font-size="25.5" textLength="81.65" lengthAdjust="spacing">75-fold</text>
<rect x="1449.2" y="732.45" width="340.7" height="20.4" fill="#e03533" stroke="#000" stroke-width="2"/>
<circle cx="1769.2" cy="743" r="3.8" fill="#fff" stroke="#000" stroke-width="2.1"/>
<circle cx="1798.4" cy="736.5" r="3.8" fill="#fff" stroke="#000" stroke-width="2.1"/>
<circle cx="1804.2" cy="748.8" r="3.8" fill="#fff" stroke="#000" stroke-width="2.1"/>
<path d="M1789.9,742.65 H1809.5 M1809.5,736.65 V748.65" fill="none" stroke="#000" stroke-width="2"/>
<rect x="1449.2" y="765.25" width="4.6" height="21" fill="#000" stroke="#000" stroke-width="1"/>
<circle cx="1453.8" cy="769.35" r="3.8" fill="#fff" stroke="#000" stroke-width="2.1"/>
<circle cx="1453.8" cy="775.75" r="3.8" fill="#fff" stroke="#000" stroke-width="2.1"/>
<circle cx="1453.8" cy="782.15" r="3.8" fill="#fff" stroke="#000" stroke-width="2.1"/>
<path d="M1823,742.3 H1835 V776.4 H1823" fill="none" stroke="#000" stroke-width="2.2"/>
<text x="1851.81" y="769.2" font-size="25.5" textLength="81.83" lengthAdjust="spacing">48-fold</text>
<rect x="1449.2" y="822.7" width="350.9" height="20.4" fill="#e03533" stroke="#000" stroke-width="2"/>
<circle cx="1773" cy="832.7" r="3.8" fill="#fff" stroke="#000" stroke-width="2.1"/>
<circle cx="1811" cy="827" r="3.8" fill="#fff" stroke="#000" stroke-width="2.1"/>
<circle cx="1818.8" cy="838.4" r="3.8" fill="#fff" stroke="#000" stroke-width="2.1"/>
<path d="M1800.1,832.9 H1825.5 M1825.5,826.9 V838.9" fill="none" stroke="#000" stroke-width="2"/>
<rect x="1449.2" y="855.5" width="4.6" height="21" fill="#000" stroke="#000" stroke-width="1"/>
<circle cx="1453.8" cy="859.6" r="3.8" fill="#fff" stroke="#000" stroke-width="2.1"/>
<circle cx="1453.8" cy="866" r="3.8" fill="#fff" stroke="#000" stroke-width="2.1"/>
<circle cx="1453.8" cy="872.4" r="3.8" fill="#fff" stroke="#000" stroke-width="2.1"/>
<path d="M1837,831.9 H1849.5 V866.9 H1837" fill="none" stroke="#000" stroke-width="2.2"/>
<text x="1864.91" y="857.3" font-size="25.5" textLength="81.73" lengthAdjust="spacing">46-fold</text>
<rect x="1449.2" y="912.7" width="132.7" height="20.4" fill="#e03533" stroke="#000" stroke-width="2"/>
<circle cx="1571.7" cy="922.3" r="3.8" fill="#fff" stroke="#000" stroke-width="2.1"/>
<circle cx="1585.4" cy="916.5" r="3.8" fill="#fff" stroke="#000" stroke-width="2.1"/>
<circle cx="1590.7" cy="927.5" r="3.8" fill="#fff" stroke="#000" stroke-width="2.1"/>
<path d="M1581.9,922.9 H1588.5 M1588.5,916.9 V928.9" fill="none" stroke="#000" stroke-width="2"/>
<rect x="1449.2" y="945.5" width="4.6" height="21" fill="#000" stroke="#000" stroke-width="1"/>
<circle cx="1453.8" cy="949.6" r="3.8" fill="#fff" stroke="#000" stroke-width="2.1"/>
<circle cx="1453.8" cy="956" r="3.8" fill="#fff" stroke="#000" stroke-width="2.1"/>
<circle cx="1453.8" cy="962.4" r="3.8" fill="#fff" stroke="#000" stroke-width="2.1"/>
<path d="M1601.5,923.2 H1614 V958.2 H1601.5" fill="none" stroke="#000" stroke-width="2.2"/>
<text x="1625.22" y="949.1" font-size="25.5" textLength="83.23" lengthAdjust="spacing">20-fold</text>
<rect x="1449.2" y="1002.7" width="17.5" height="20.4" fill="#e03533" stroke="#000" stroke-width="2"/>
<circle cx="1463.75" cy="1006.25" r="3.8" fill="#fff" stroke="#000" stroke-width="2.1"/>
<circle cx="1466.25" cy="1012.5" r="3.8" fill="#fff" stroke="#000" stroke-width="2.1"/>
<circle cx="1466.25" cy="1018.75" r="3.8" fill="#fff" stroke="#000" stroke-width="2.1"/>
<path d="M1466.7,1012.9 H1468 M1468,1006.9 V1018.9" fill="none" stroke="#000" stroke-width="2"/>
<rect x="1449.2" y="1035.5" width="9.1" height="21" fill="#000" stroke="#000" stroke-width="1"/>
<circle cx="1458.3" cy="1039.6" r="3.8" fill="#fff" stroke="#000" stroke-width="2.1"/>
<circle cx="1458.3" cy="1046" r="3.8" fill="#fff" stroke="#000" stroke-width="2.1"/>
<circle cx="1458.3" cy="1052.4" r="3.8" fill="#fff" stroke="#000" stroke-width="2.1"/>
<path d="M1481.3,1013.3 H1494.4 V1048.3 H1481.3" fill="none" stroke="#000" stroke-width="2.2"/>
<text x="1511.52" y="1039.6" font-size="25.5" textLength="67.63" lengthAdjust="spacing">2-fold</text>
<rect x="1789" y="1008.4" width="44.7" height="12.2" fill="#000" stroke="#000" stroke-width="1.5"/>
<rect x="1789" y="1037.5" width="44.7" height="11.7" fill="#e03533" stroke="#000" stroke-width="2"/>
<text x="1857.87" y="1023" font-size="26" textLength="54.79" lengthAdjust="spacingAndGlyphs">Dark</text>
<text x="1858.71" y="1052.1" font-size="26" textLength="84.56" lengthAdjust="spacingAndGlyphs">660 nm</text>
<text x="0.63" y="1265.9" font-size="40.3" font-weight="bold" textLength="22.45" lengthAdjust="spacing">e</text>
<path d="M168.3,1298 V1786 M151.3,1783.8 H524.3" fill="none" stroke="#000" stroke-width="2.2"/>
<path d="M151.3,1299.3 H168.3" stroke="#000" stroke-width="2.2"/>
<text x="96.24" y="1312.3" font-size="29.6" textLength="48.39" lengthAdjust="spacingAndGlyphs">800</text>
<path d="M151.3,1420.6 H168.3" stroke="#000" stroke-width="2.2"/>
<text x="96.02" y="1432" font-size="29.6" textLength="48.62" lengthAdjust="spacingAndGlyphs">600</text>
<path d="M151.3,1541.6 H168.3" stroke="#000" stroke-width="2.2"/>
<text x="96.84" y="1551.4" font-size="29.6" textLength="47.78" lengthAdjust="spacingAndGlyphs">400</text>
<path d="M151.3,1663.4 H168.3" stroke="#000" stroke-width="2.2"/>
<text x="96.03" y="1671.6" font-size="29.6" textLength="48.6" lengthAdjust="spacingAndGlyphs">200</text>
<text x="128.74" y="1792.6" font-size="29.6" textLength="15.12" lengthAdjust="spacingAndGlyphs">0</text>
<path d="M249.9,1783.8 V1802" stroke="#000" stroke-width="2.2"/>
<path d="M438.7,1783.8 V1802" stroke="#000" stroke-width="2.2"/>
<text x="232.95" y="1832.8" font-size="30.5" textLength="18.3" lengthAdjust="spacingAndGlyphs">P</text>
<text x="250.62" y="1842.7" font-size="16.7" textLength="31.08" lengthAdjust="spacingAndGlyphs">RL-1</text>
<text x="421.35" y="1832.8" font-size="30.5" textLength="18.3" lengthAdjust="spacingAndGlyphs">P</text>
<text x="438.54" y="1842.7" font-size="16.7" textLength="33.23" lengthAdjust="spacingAndGlyphs">RL-2</text>
<text transform="translate(69.5 1711.2) rotate(-90)" x="-1.48" y="0" font-size="32.7" textLength="353.41" lengthAdjust="spacing">SEAP Production (U/L)</text>
<rect x="263.2" y="1532" width="45.5" height="251.8" fill="#e03533" stroke="#000" stroke-width="2.2"/>
<rect x="452.5" y="1340" width="45.3" height="443.8" fill="#e03533" stroke="#000" stroke-width="2.2"/>
<circle cx="285.8" cy="1510.4" r="5.2" fill="#fff" stroke="#000" stroke-width="2"/>
<circle cx="274.3" cy="1540.6" r="5.2" fill="#fff" stroke="#000" stroke-width="2"/>
<circle cx="297.4" cy="1543" r="5.2" fill="#fff" stroke="#000" stroke-width="2"/>
<circle cx="459.1" cy="1332.4" r="5.2" fill="#fff" stroke="#000" stroke-width="2"/>
<circle cx="474.8" cy="1337.3" r="5.2" fill="#fff" stroke="#000" stroke-width="2"/>
<circle cx="490.3" cy="1349.5" r="5.2" fill="#fff" stroke="#000" stroke-width="2"/>
<path d="M285.8,1532 V1513.4 M273.4,1513.4 H298.2" fill="none" stroke="#000" stroke-width="2"/>
<path d="M475,1340 V1330.5 M462.1,1330.5 H487.9" fill="none" stroke="#000" stroke-width="2"/>
<path d="M193,1782.3 H238 M382,1782.3 H427" stroke="#000" stroke-width="3"/>
<circle cx="201" cy="1780.5" r="5.2" fill="#fff" stroke="#000" stroke-width="2"/>
<circle cx="216" cy="1780.5" r="5.2" fill="#fff" stroke="#000" stroke-width="2"/>
<circle cx="230.3" cy="1780.5" r="5.2" fill="#fff" stroke="#000" stroke-width="2"/>
<circle cx="389" cy="1780.5" r="5.2" fill="#fff" stroke="#000" stroke-width="2"/>
<circle cx="404" cy="1780.5" r="5.2" fill="#fff" stroke="#000" stroke-width="2"/>
<circle cx="419.1" cy="1780.5" r="5.2" fill="#fff" stroke="#000" stroke-width="2"/>
<path d="M221.4,1492.2 V1478 H285.2 V1492.2" fill="none" stroke="#000" stroke-width="2.2"/>
<text x="212.44" y="1469" font-size="26.5" textLength="81.87" lengthAdjust="spacing">74-fold</text>
<path d="M411,1316.9 V1302.8 H475.4 V1316.9" fill="none" stroke="#000" stroke-width="2.2"/>
<text x="393.18" y="1290.3" font-size="26.5" textLength="96.63" lengthAdjust="spacing">166-fold</text>
<rect x="186.3" y="1303.9" width="44.6" height="13.1" fill="#000" stroke="#000" stroke-width="1.5"/>
<rect x="186.3" y="1333.2" width="44.6" height="12.2" fill="#e03533" stroke="#000" stroke-width="2"/>
<text x="254.6" y="1319.1" font-size="27" textLength="54.17" lengthAdjust="spacingAndGlyphs">Dark</text>
<text x="255.41" y="1348.7" font-size="27" textLength="84.45" lengthAdjust="spacingAndGlyphs">660 nm</text>
<text x="546.52" y="1266.2" font-size="40" font-weight="bold" textLength="13.41" lengthAdjust="spacing">f</text>
<path d="M685.6,1299.5 V1787 M665.4,1784.8 H1984.3" fill="none" stroke="#000" stroke-width="2.2"/>
<path d="M665,1301.4 H685.6" stroke="#000" stroke-width="2.2"/>
<text x="609.51" y="1312.5" font-size="30.2" textLength="49.04" lengthAdjust="spacingAndGlyphs">600</text>
<path d="M665,1462.5 H685.6" stroke="#000" stroke-width="2.2"/>
<text x="610.34" y="1474.2" font-size="30.2" textLength="48.19" lengthAdjust="spacingAndGlyphs">400</text>
<path d="M665,1623.7 H685.6" stroke="#000" stroke-width="2.2"/>
<text x="609.52" y="1635" font-size="30.2" textLength="49.03" lengthAdjust="spacingAndGlyphs">200</text>
<text x="644.45" y="1796" font-size="30.2" textLength="16.4" lengthAdjust="spacingAndGlyphs">0</text>
<path d="M804.8,1784.8 V1805.5" stroke="#000" stroke-width="2.2"/>
<text x="796.55" y="1837.6" font-size="30.3" textLength="16.4" lengthAdjust="spacingAndGlyphs">0</text>
<path d="M1069,1784.8 V1805.5" stroke="#000" stroke-width="2.2"/>
<text x="1047.62" y="1837.6" font-size="30.3" textLength="38.22" lengthAdjust="spacingAndGlyphs">1 s</text>
<path d="M1333.2,1784.8 V1805.5" stroke="#000" stroke-width="2.2"/>
<text x="1303.41" y="1837.6" font-size="30.3" textLength="54.22" lengthAdjust="spacingAndGlyphs">10 s</text>
<path d="M1596.9,1784.8 V1805.5" stroke="#000" stroke-width="2.2"/>
<text x="1556.23" y="1837.6" font-size="30.3" textLength="70.85" lengthAdjust="spacingAndGlyphs">6 min</text>
<path d="M1861.1,1784.8 V1805.5" stroke="#000" stroke-width="2.2"/>
<text x="1838.77" y="1837.6" font-size="30.3" textLength="40.74" lengthAdjust="spacingAndGlyphs">1 h</text>
<text x="1196.64" y="1882.5" font-size="31" textLength="228.74" lengthAdjust="spacing">Illumination time</text>
<text transform="translate(588.2 1679.7) rotate(-90)" x="-1.43" y="0" font-size="32.7" textLength="320.97" lengthAdjust="spacingAndGlyphs">SEAP Production (U/L)</text>
<rect x="974.4" y="1758.9" width="45.9" height="25.9" fill="#ebb07f" stroke="#000" stroke-width="2.2"/>
<rect x="1046.5" y="1750.4" width="46.1" height="34.4" fill="#e87880" stroke="#000" stroke-width="2.2"/>
<rect x="1118.7" y="1714.7" width="45.5" height="70.1" fill="#e03533" stroke="#000" stroke-width="2.2"/>
<rect x="1238.2" y="1661.1" width="46" height="123.7" fill="#ebb07f" stroke="#000" stroke-width="2.2"/>
<rect x="1310.1" y="1600.7" width="46.5" height="184.1" fill="#e87880" stroke="#000" stroke-width="2.2"/>
<rect x="1382.5" y="1504.4" width="46.2" height="280.4" fill="#e03533" stroke="#000" stroke-width="2.2"/>
<rect x="1502.2" y="1604.2" width="46.3" height="180.6" fill="#ebb07f" stroke="#000" stroke-width="2.2"/>
<rect x="1574.2" y="1543.3" width="46.3" height="241.5" fill="#e87880" stroke="#000" stroke-width="2.2"/>
<rect x="1646.4" y="1489.8" width="46.1" height="295" fill="#e03533" stroke="#000" stroke-width="2.2"/>
<rect x="1766.4" y="1548.8" width="46.3" height="236" fill="#ebb07f" stroke="#000" stroke-width="2.2"/>
<rect x="1838.1" y="1488.5" width="46.7" height="296.3" fill="#e87880" stroke="#000" stroke-width="2.2"/>
<rect x="1910.2" y="1386.8" width="46.1" height="398" fill="#e03533" stroke="#000" stroke-width="2.2"/>
<rect x="710.5" y="1781.8" width="46" height="3" fill="#ebb07f" stroke="#000" stroke-width="1.5"/>
<rect x="782.4" y="1781.8" width="46" height="3" fill="#e87880" stroke="#000" stroke-width="1.5"/>
<rect x="854.5" y="1781.8" width="46" height="3" fill="#e03533" stroke="#000" stroke-width="1.5"/>
<circle cx="981.7" cy="1753.2" r="4.8" fill="#fff" stroke="#000" stroke-width="2"/>
<circle cx="997.7" cy="1760.3" r="4.8" fill="#fff" stroke="#000" stroke-width="2"/>
<circle cx="1014.1" cy="1760.8" r="4.8" fill="#fff" stroke="#000" stroke-width="2"/>
<circle cx="1054" cy="1749" r="4.8" fill="#fff" stroke="#000" stroke-width="2"/>
<circle cx="1069.6" cy="1749" r="4.8" fill="#fff" stroke="#000" stroke-width="2"/>
<circle cx="1085.6" cy="1749" r="4.8" fill="#fff" stroke="#000" stroke-width="2"/>
<circle cx="1125.8" cy="1709.4" r="4.8" fill="#fff" stroke="#000" stroke-width="2"/>
<circle cx="1141.6" cy="1713.4" r="4.8" fill="#fff" stroke="#000" stroke-width="2"/>
<circle cx="1157.2" cy="1718.9" r="4.8" fill="#fff" stroke="#000" stroke-width="2"/>
<circle cx="1245.2" cy="1657.3" r="4.8" fill="#fff" stroke="#000" stroke-width="2"/>
<circle cx="1261.6" cy="1661.6" r="4.8" fill="#fff" stroke="#000" stroke-width="2"/>
<circle cx="1276.7" cy="1661.6" r="4.8" fill="#fff" stroke="#000" stroke-width="2"/>
<circle cx="1321.4" cy="1603.7" r="4.8" fill="#fff" stroke="#000" stroke-width="2"/>
<circle cx="1333.2" cy="1591.2" r="4.8" fill="#fff" stroke="#000" stroke-width="2"/>
<circle cx="1345.8" cy="1605.8" r="4.8" fill="#fff" stroke="#000" stroke-width="2"/>
<circle cx="1405.3" cy="1480.6" r="4.8" fill="#fff" stroke="#000" stroke-width="2"/>
<circle cx="1405.3" cy="1502.4" r="4.8" fill="#fff" stroke="#000" stroke-width="2"/>
<circle cx="1405.3" cy="1526.6" r="4.8" fill="#fff" stroke="#000" stroke-width="2"/>
<circle cx="1509.6" cy="1598.2" r="4.8" fill="#fff" stroke="#000" stroke-width="2"/>
<circle cx="1525.3" cy="1605" r="4.8" fill="#fff" stroke="#000" stroke-width="2"/>
<circle cx="1540.9" cy="1606.1" r="4.8" fill="#fff" stroke="#000" stroke-width="2"/>
<circle cx="1581.3" cy="1539.7" r="4.8" fill="#fff" stroke="#000" stroke-width="2"/>
<circle cx="1596.6" cy="1540.9" r="4.8" fill="#fff" stroke="#000" stroke-width="2"/>
<circle cx="1612.2" cy="1545.4" r="4.8" fill="#fff" stroke="#000" stroke-width="2"/>
<circle cx="1669.3" cy="1476.8" r="4.8" fill="#fff" stroke="#000" stroke-width="2"/>
<circle cx="1657.5" cy="1493.1" r="4.8" fill="#fff" stroke="#000" stroke-width="2"/>
<circle cx="1681.4" cy="1495.6" r="4.8" fill="#fff" stroke="#000" stroke-width="2"/>
<circle cx="1773.5" cy="1544.1" r="4.8" fill="#fff" stroke="#000" stroke-width="2"/>
<circle cx="1789.2" cy="1546.7" r="4.8" fill="#fff" stroke="#000" stroke-width="2"/>
<circle cx="1804.9" cy="1552.7" r="4.8" fill="#fff" stroke="#000" stroke-width="2"/>
<circle cx="1845.6" cy="1483" r="4.8" fill="#fff" stroke="#000" stroke-width="2"/>
<circle cx="1861.2" cy="1489.6" r="4.8" fill="#fff" stroke="#000" stroke-width="2"/>
<circle cx="1877" cy="1491.2" r="4.8" fill="#fff" stroke="#000" stroke-width="2"/>
<circle cx="1921.4" cy="1388.2" r="4.8" fill="#fff" stroke="#000" stroke-width="2"/>
<circle cx="1933.1" cy="1365.5" r="4.8" fill="#fff" stroke="#000" stroke-width="2"/>
<circle cx="1945.3" cy="1402" r="4.8" fill="#fff" stroke="#000" stroke-width="2"/>
<path d="M997.4,1758.9 V1754 M985.4,1754 H1009.4" fill="none" stroke="#000" stroke-width="2"/>
<path d="M1069.5,1750.4 V1749.5 M1057.5,1749.5 H1081.5" fill="none" stroke="#000" stroke-width="2"/>
<path d="M1141.5,1714.7 V1709.4 M1129.5,1709.4 H1153.5" fill="none" stroke="#000" stroke-width="2"/>
<path d="M1261.2,1661.1 V1658 M1249.2,1658 H1273.2" fill="none" stroke="#000" stroke-width="2"/>
<path d="M1333.3,1600.7 V1591.2 M1320.8,1591.2 H1345.8" fill="none" stroke="#000" stroke-width="2"/>
<path d="M1405.3,1504.4 V1480.6 M1392.8,1480.6 H1417.8" fill="none" stroke="#000" stroke-width="2"/>
<path d="M1525.3,1604.2 V1599 M1513.3,1599 H1537.3" fill="none" stroke="#000" stroke-width="2"/>
<path d="M1597.3,1543.3 V1538.5 M1585.3,1538.5 H1609.3" fill="none" stroke="#000" stroke-width="2"/>
<path d="M1669.3,1489.8 V1477.5 M1656.8,1477.5 H1681.8" fill="none" stroke="#000" stroke-width="2"/>
<path d="M1789.5,1548.8 V1545 M1777.5,1545 H1801.5" fill="none" stroke="#000" stroke-width="2"/>
<path d="M1861.5,1488.5 V1483 M1849.5,1483 H1873.5" fill="none" stroke="#000" stroke-width="2"/>
<path d="M1933.1,1386.8 V1365.5 M1920.6,1365.5 H1945.6" fill="none" stroke="#000" stroke-width="2"/>
<circle cx="717.5" cy="1782" r="5.2" fill="#fff" stroke="#000" stroke-width="2"/>
<circle cx="733.8" cy="1782" r="5.2" fill="#fff" stroke="#000" stroke-width="2"/>
<circle cx="749.3" cy="1782" r="5.2" fill="#fff" stroke="#000" stroke-width="2"/>
<circle cx="789.3" cy="1782" r="5.2" fill="#fff" stroke="#000" stroke-width="2"/>
<circle cx="805.4" cy="1782" r="5.2" fill="#fff" stroke="#000" stroke-width="2"/>
<circle cx="821.1" cy="1782" r="5.2" fill="#fff" stroke="#000" stroke-width="2"/>
<circle cx="862" cy="1780.8" r="5.2" fill="#fff" stroke="#000" stroke-width="2"/>
<circle cx="877.5" cy="1780.8" r="5.2" fill="#fff" stroke="#000" stroke-width="2"/>
<circle cx="893.5" cy="1780.8" r="5.2" fill="#fff" stroke="#000" stroke-width="2"/>
<text transform="translate(1006.2 1727.3) rotate(-90)" x="-1.26" y="0" font-size="27" textLength="67.29" lengthAdjust="spacingAndGlyphs">9-fold</text>
<text transform="translate(1076.7 1711.4) rotate(-90)" x="-1.35" y="0" font-size="27" textLength="82.29" lengthAdjust="spacingAndGlyphs">20-fold</text>
<text transform="translate(1148.4 1686.7) rotate(-90)" x="-2.02" y="0" font-size="27" textLength="80.92" lengthAdjust="spacingAndGlyphs">16-fold</text>
<text transform="translate(1270.4 1637.2) rotate(-90)" x="-0.61" y="0" font-size="27" textLength="81.53" lengthAdjust="spacingAndGlyphs">42-fold</text>
<text transform="translate(1340.8 1575.6) rotate(-90)" x="-2.01" y="0" font-size="27" textLength="95.52" lengthAdjust="spacingAndGlyphs">106-fold</text>
<text transform="translate(1412.3 1461.7) rotate(-90)" x="-1.35" y="0" font-size="27" textLength="81.05" lengthAdjust="spacingAndGlyphs">65-fold</text>
<text transform="translate(1533.6 1571.6) rotate(-90)" x="-1.36" y="0" font-size="27" textLength="81.68" lengthAdjust="spacingAndGlyphs">62-fold</text>
<text transform="translate(1603.9 1507) rotate(-90)" x="-2.04" y="0" font-size="27" textLength="96.87" lengthAdjust="spacingAndGlyphs">139-fold</text>
<text transform="translate(1675.9 1456.7) rotate(-90)" x="-1.35" y="0" font-size="27" textLength="81.05" lengthAdjust="spacingAndGlyphs">68-fold</text>
<text transform="translate(1795.9 1522.6) rotate(-90)" x="-1.13" y="0" font-size="27" textLength="79.82" lengthAdjust="spacingAndGlyphs">80-fold</text>
<text transform="translate(1867.2 1461.8) rotate(-90)" x="-2.01" y="0" font-size="27" textLength="95.41" lengthAdjust="spacingAndGlyphs">170-fold</text>
<text transform="translate(1942.2 1354.3) rotate(-90)" x="-1.21" y="0" font-size="27" textLength="78.87" lengthAdjust="spacingAndGlyphs">92-fold</text>
<text x="721.91" y="1720" font-size="19.2" textLength="84.66" lengthAdjust="spacing"><tspan font-style="italic">P</tspan><tspan>=0.0007</tspan></text>
<text x="755.9" y="1745.53" font-size="25.6" textLength="28.99" lengthAdjust="spacingAndGlyphs">***</text>
<path d="M737.2,1756 V1746.2 H802.8 V1756" fill="none" stroke="#000" stroke-width="2.2"/>
<text x="814.01" y="1720" font-size="19.2" textLength="105.13" lengthAdjust="spacing"><tspan font-style="italic">P</tspan><tspan>=6.51E-06</tspan></text>
<text x="826.89" y="1745.53" font-size="25.6" textLength="40.31" lengthAdjust="spacing">****</text>
<path d="M810.4,1756 V1746.2 H876 V1756" fill="none" stroke="#000" stroke-width="2.2"/>
<text x="1030.31" y="1526.5" font-size="19.2" textLength="85.86" lengthAdjust="spacing"><tspan font-style="italic">P</tspan><tspan>=0.0002</tspan></text>
<text x="1065.54" y="1547.72" font-size="25.6" textLength="26.11" lengthAdjust="spacingAndGlyphs">***</text>
<path d="M1005,1553 V1544.1 H1137.8 V1553" fill="none" stroke="#000" stroke-width="2.2"/>
<text x="1054.01" y="1573.6" font-size="19.2" textLength="85.26" lengthAdjust="spacing"><tspan font-style="italic">P</tspan><tspan>=0.0002</tspan></text>
<text x="1088.93" y="1595.03" font-size="25.6" textLength="26.62" lengthAdjust="spacingAndGlyphs">***</text>
<path d="M1071.2,1600.2 V1590.7 H1137.8 V1600.2" fill="none" stroke="#000" stroke-width="2.2"/>
<text x="1291.01" y="1297" font-size="19.2" textLength="85.13" lengthAdjust="spacing"><tspan font-style="italic">P</tspan><tspan>=0.0003</tspan></text>
<text x="1326.45" y="1318.12" font-size="25.6" textLength="25.29" lengthAdjust="spacingAndGlyphs">***</text>
<path d="M1267.2,1325.4 V1316.3 H1401 V1325.4" fill="none" stroke="#000" stroke-width="2.2"/>
<text x="1318.11" y="1343.5" font-size="19.2" textLength="85.06" lengthAdjust="spacing"><tspan font-style="italic">P</tspan><tspan>=0.0022</tspan></text>
<text x="1353.36" y="1364.62" font-size="25.6" textLength="16.47" lengthAdjust="spacingAndGlyphs">**</text>
<path d="M1333.6,1369.4 V1360.3 H1401 V1369.4" fill="none" stroke="#000" stroke-width="2.2"/>
<text x="1553.81" y="1295.7" font-size="19.2" textLength="105.8" lengthAdjust="spacing"><tspan font-style="italic">P</tspan><tspan>=6.51E-05</tspan></text>
<text x="1588.74" y="1318.12" font-size="25.6" textLength="35.22" lengthAdjust="spacingAndGlyphs">****</text>
<path d="M1535.5,1325.4 V1316.3 H1669.3 V1325.4" fill="none" stroke="#000" stroke-width="2.2"/>
<text x="1580.91" y="1343.5" font-size="19.2" textLength="85.66" lengthAdjust="spacing"><tspan font-style="italic">P</tspan><tspan>=0.0012</tspan></text>
<text x="1625.65" y="1364.62" font-size="25.6" textLength="17.1" lengthAdjust="spacingAndGlyphs">**</text>
<path d="M1602.2,1369.4 V1360.3 H1669.3 V1369.4" fill="none" stroke="#000" stroke-width="2.2"/>
<text x="1823.11" y="1205.3" font-size="19.2" textLength="85.03" lengthAdjust="spacing"><tspan font-style="italic">P</tspan><tspan>=0.0001</tspan></text>
<text x="1861.85" y="1226.72" font-size="25.6" textLength="25.39" lengthAdjust="spacingAndGlyphs">***</text>
<path d="M1798.9,1229.5 V1222.2 H1933.1 V1229.5" fill="none" stroke="#000" stroke-width="2.2"/>
<text x="1844.41" y="1244.5" font-size="19.2" textLength="84.56" lengthAdjust="spacing"><tspan font-style="italic">P</tspan><tspan>=0.0007</tspan></text>
<text x="1882.65" y="1265.62" font-size="25.6" textLength="25.49" lengthAdjust="spacingAndGlyphs">***</text>
<path d="M1865.2,1270.8 V1261.7 H1933.1 V1270.8" fill="none" stroke="#000" stroke-width="2.2"/>
<rect x="733.8" y="1311.5" width="42.3" height="20.6" fill="#ebb07f" stroke="#000" stroke-width="2"/>
<rect x="733.8" y="1371.2" width="42.3" height="21.8" fill="#e87880" stroke="#000" stroke-width="2"/>
<rect x="733.8" y="1426.7" width="42.3" height="21.3" fill="#e03533" stroke="#000" stroke-width="2"/>
<text x="806.52" y="1328.5" font-size="26.3" textLength="89.02" lengthAdjust="spacingAndGlyphs"><tspan font-style="italic">Dr</tspan><tspan>BphP</tspan></text>
<text x="805.18" y="1389.4" font-size="26.3" textLength="94.78" lengthAdjust="spacingAndGlyphs">PnBphP</text>
<text x="805.15" y="1447.3" font-size="26.3" textLength="94.84" lengthAdjust="spacingAndGlyphs">FnBphP</text>
<rect x="1031.5" y="1305.3" width="208.2" height="42.4" rx="11" fill="url(#gTan)" stroke="#231f20" stroke-width="1.6"/>
<text x="1060.73" y="1336.1" font-size="25.3" textLength="151.32" lengthAdjust="spacingAndGlyphs"><tspan font-style="italic">Dr</tspan><tspan>BphP-PCM</tspan></text>
<rect x="928.3" y="1359.7" width="101.4" height="42.3" rx="11" fill="#e8787c" stroke="#231f20" stroke-width="1.6"/>
<rect x="1031.5" y="1359.7" width="208.2" height="42.3" rx="11" fill="url(#gTan)" stroke="#231f20" stroke-width="1.6"/>
<text x="1060.73" y="1388.6" font-size="25.3" textLength="151.32" lengthAdjust="spacingAndGlyphs"><tspan font-style="italic">Dr</tspan><tspan>BphP-PCM</tspan></text>
<rect x="928.3" y="1414.7" width="101.4" height="42.4" rx="11" fill="#e03531" stroke="#231f20" stroke-width="1.6"/>
<rect x="1031.5" y="1414.7" width="208.2" height="42.4" rx="11" fill="url(#gTan)" stroke="#231f20" stroke-width="1.6"/>
<text x="1060.73" y="1443.7" font-size="25.3" textLength="151.32" lengthAdjust="spacingAndGlyphs"><tspan font-style="italic">Dr</tspan><tspan>BphP-PCM</tspan></text>
<text x="933.92" y="1388.6" font-size="25.3" textLength="62.12" lengthAdjust="spacing">PhyA</text>
<text x="995.76" y="1396.6" font-size="15.8" textLength="30.19" lengthAdjust="spacingAndGlyphs">NTE</text>
<text x="936.45" y="1443.7" font-size="25.3" textLength="59.59" lengthAdjust="spacingAndGlyphs">FphA</text>
<text x="995.76" y="1451.7" font-size="15.8" textLength="30.19" lengthAdjust="spacingAndGlyphs">NTE</text>
</svg></body></html>
